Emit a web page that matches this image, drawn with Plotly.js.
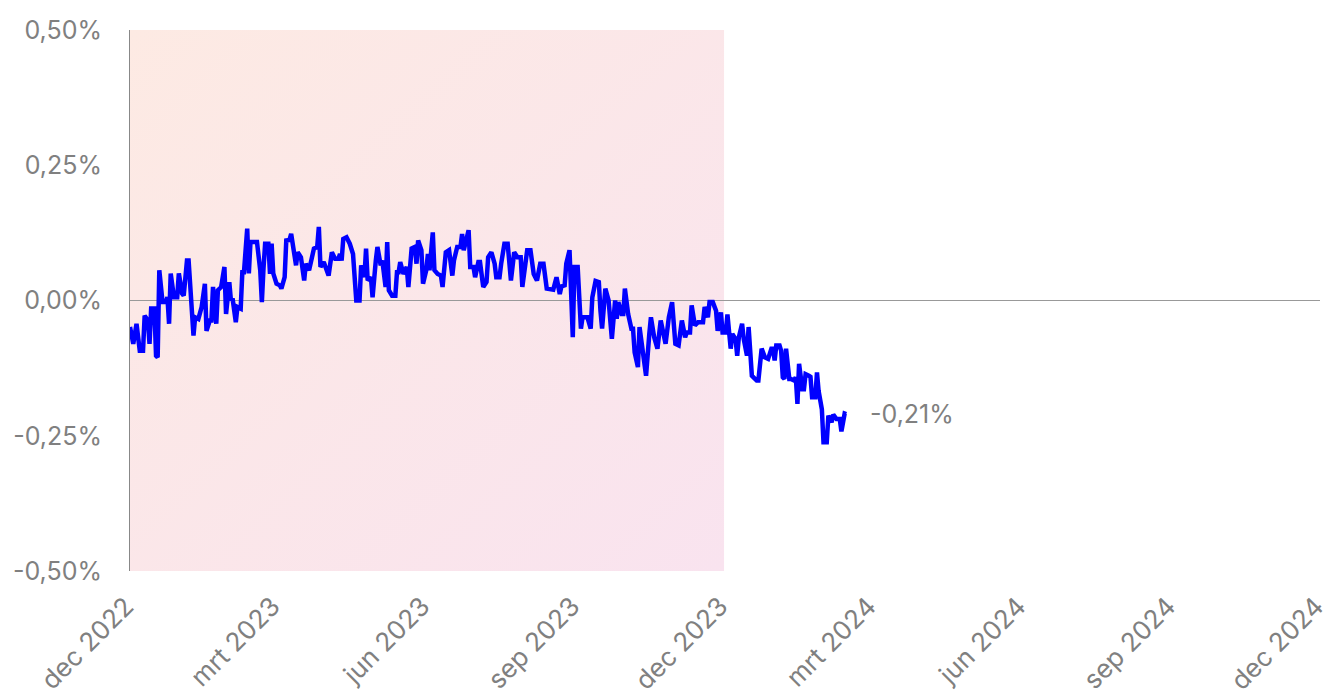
<!DOCTYPE html>
<html>
<head>
<meta charset="utf-8">
<script src="https://cdn.plot.ly/plotly-3.0.1.min.js"></script>
<style>
html,body{margin:0;padding:0;background:#fff;}
#chart{width:1328px;height:700px;}
</style>
</head>
<body>
<div id="chart"></div>
<script>
const dates = [
  // Dec 2022
  '2022-12-01','2022-12-03','2022-12-05','2022-12-07','2022-12-09','2022-12-10','2022-12-12','2022-12-13','2022-12-14','2022-12-16','2022-12-17','2022-12-18','2022-12-19','2022-12-21','2022-12-23','2022-12-24','2022-12-25','2022-12-26','2022-12-28','2022-12-30','2022-12-31',
  // Jan 2023
  '2023-01-02','2023-01-03','2023-01-05','2023-01-06','2023-01-08','2023-01-09','2023-01-10','2023-01-12','2023-01-14','2023-01-16','2023-01-17','2023-01-19','2023-01-20','2023-01-21','2023-01-23','2023-01-24','2023-01-26','2023-01-28','2023-01-29','2023-01-31',
  // Feb 2023
  '2023-02-01','2023-02-02','2023-02-04','2023-02-05','2023-02-07','2023-02-08','2023-02-09','2023-02-11','2023-02-12','2023-02-13','2023-02-15','2023-02-17','2023-02-19','2023-02-20','2023-02-21','2023-02-22','2023-02-24','2023-02-25','2023-02-26','2023-02-27',
  // Mar 2023
  '2023-03-01','2023-03-03','2023-03-04','2023-03-06','2023-03-07','2023-03-09','2023-03-10','2023-03-12','2023-03-13','2023-03-14','2023-03-16','2023-03-18','2023-03-19','2023-03-21','2023-03-22','2023-03-24','2023-03-26','2023-03-27','2023-03-28','2023-03-30',
  // Apr 2023
  '2023-04-02','2023-04-04','2023-04-06','2023-04-08','2023-04-09','2023-04-10','2023-04-11','2023-04-13','2023-04-15','2023-04-17','2023-04-19','2023-04-21','2023-04-22','2023-04-24','2023-04-25','2023-04-26','2023-04-28','2023-04-29',
  // May 2023
  '2023-05-01','2023-05-02','2023-05-04','2023-05-05','2023-05-07','2023-05-08','2023-05-09','2023-05-11','2023-05-13','2023-05-14','2023-05-15','2023-05-16','2023-05-18','2023-05-20','2023-05-21','2023-05-23','2023-05-25','2023-05-26','2023-05-27','2023-05-29','2023-05-30',
  // Jun 2023
  '2023-06-01','2023-06-02','2023-06-03','2023-06-05','2023-06-06','2023-06-08','2023-06-10','2023-06-11','2023-06-13','2023-06-15','2023-06-17','2023-06-18','2023-06-20','2023-06-22','2023-06-23','2023-06-24','2023-06-25','2023-06-27','2023-06-28','2023-06-30',
  // Jul 2023
  '2023-07-01','2023-07-03','2023-07-04','2023-07-06','2023-07-08','2023-07-09','2023-07-11','2023-07-13','2023-07-14','2023-07-16','2023-07-17','2023-07-19','2023-07-21','2023-07-23','2023-07-25','2023-07-27','2023-07-29','2023-07-30',
  // Aug 2023
  '2023-08-02','2023-08-04','2023-08-06','2023-08-08','2023-08-10','2023-08-12','2023-08-14','2023-08-16','2023-08-18','2023-08-20','2023-08-22','2023-08-23','2023-08-25','2023-08-26','2023-08-28','2023-08-30','2023-08-31',
  // Sep 2023
  '2023-09-02','2023-09-04','2023-09-05','2023-09-08','2023-09-10','2023-09-11','2023-09-13','2023-09-15','2023-09-16','2023-09-17','2023-09-19','2023-09-21','2023-09-23','2023-09-25','2023-09-26','2023-09-27','2023-09-29','2023-09-30',
  // Oct 2023
  '2023-10-01','2023-10-03','2023-10-05','2023-10-06','2023-10-07','2023-10-09','2023-10-10','2023-10-12','2023-10-14','2023-10-16','2023-10-17','2023-10-19','2023-10-21','2023-10-23','2023-10-25','2023-10-26','2023-10-28','2023-10-30',
  // Nov 2023
  '2023-11-01','2023-11-03','2023-11-05','2023-11-07','2023-11-08','2023-11-10','2023-11-11','2023-11-13','2023-11-15','2023-11-18','2023-11-19','2023-11-21','2023-11-22','2023-11-24','2023-11-26','2023-11-27','2023-11-29','2023-11-30',
  // Dec 2023
  '2023-12-02','2023-12-03','2023-12-05','2023-12-06','2023-12-08','2023-12-09','2023-12-10','2023-12-12','2023-12-13','2023-12-15','2023-12-16','2023-12-18','2023-12-19','2023-12-21','2023-12-22','2023-12-24','2023-12-26','2023-12-28','2023-12-30','2023-12-31',
  // Jan 2024
  '2024-01-01','2024-01-02','2024-01-04','2024-01-05','2024-01-06','2024-01-07','2024-01-08','2024-01-10','2024-01-11','2024-01-13','2024-01-14','2024-01-15','2024-01-16','2024-01-18','2024-01-19','2024-01-20','2024-01-22','2024-01-23','2024-01-24','2024-01-26','2024-01-27','2024-01-28','2024-01-30','2024-01-31',
  // Feb 2024
  '2024-02-02','2024-02-03','2024-02-05','2024-02-06','2024-02-08','2024-02-10','2024-02-11','2024-02-13','2024-02-14'
];

// Values in percent
const values = [
  // Dec 2022
  -0.049,-0.080,-0.043,-0.093,-0.093,-0.028,-0.037,-0.080,-0.015,-0.015,-0.102,-0.105,0.056,-0.003,-0.003,0.006,-0.043,0.050,0.006,0.006,0.050,
  // Jan 2023
  0.013,0.009,0.074,0.074,-0.025,-0.065,-0.031,-0.034,-0.012,0.031,-0.056,-0.037,-0.037,0.025,-0.043,0.019,0.025,0.062,-0.025,0.034,
  // Feb 2023
  0.000,0.004,-0.040,-0.012,-0.015,0.052,0.052,0.133,0.050,0.108,0.108,0.108,0.056,-0.003,0.059,0.105,0.105,0.049,0.105,0.050,
  // Mar 2023
  0.031,0.028,0.022,0.043,0.111,0.112,0.123,0.089,0.065,0.089,0.080,0.037,0.068,0.056,0.068,0.096,0.099,0.136,0.062,0.071,
  // Apr 2023
  0.046,0.089,0.077,0.077,0.086,0.074,0.114,0.117,0.105,0.086,0.000,0.000,0.065,0.043,0.096,0.037,0.043,0.006,
  // May 2023
  0.074,0.099,0.065,0.074,0.025,0.108,0.019,0.009,0.009,0.052,0.052,0.071,0.049,0.062,0.025,0.096,0.099,0.068,0.111,0.093,0.031,
  // Jun 2023
  0.056,0.086,0.056,0.126,0.056,0.049,0.046,0.025,0.089,0.093,0.046,0.074,0.099,0.099,0.123,0.093,0.105,0.130,0.062,0.062,
  // Jul 2023
  0.043,0.071,0.071,0.025,0.034,0.080,0.089,0.068,0.043,0.043,0.068,0.105,0.105,0.037,0.089,0.080,0.080,0.025,
  // Aug 2023
  0.093,0.093,0.049,0.037,0.068,0.068,0.022,0.020,0.020,0.043,0.012,0.026,0.028,0.068,0.093,-0.068,0.062,
  // Sep 2023
  0.062,-0.052,-0.031,-0.031,-0.052,0.006,0.036,0.034,-0.019,-0.052,0.022,0.000,-0.071,0.000,-0.034,-0.003,-0.025,-0.025,
  // Oct 2023
  0.022,-0.025,-0.052,-0.052,-0.096,-0.123,-0.049,-0.102,-0.139,-0.062,-0.031,-0.068,-0.089,-0.037,-0.074,-0.080,-0.031,-0.003,
  // Nov 2023
  -0.080,-0.083,-0.037,-0.068,-0.059,-0.059,-0.009,-0.046,-0.040,-0.040,-0.012,-0.031,-0.003,-0.003,-0.019,-0.056,-0.022,-0.059,
  // Dec 2023
  -0.059,-0.026,-0.089,-0.062,-0.071,-0.102,-0.068,-0.043,-0.071,-0.102,-0.049,-0.139,-0.142,-0.148,-0.148,-0.089,-0.105,-0.108,-0.089,-0.089,
  // Jan 2024
  -0.111,-0.083,-0.083,-0.093,-0.142,-0.145,-0.089,-0.145,-0.145,-0.148,-0.142,-0.191,-0.117,-0.164,-0.164,-0.136,-0.139,-0.141,-0.179,-0.179,-0.133,-0.167,-0.201,-0.262,
  // Feb 2024
  -0.262,-0.213,-0.225,-0.211,-0.219,-0.219,-0.242,-0.209,-0.210
];

const xTickVals = ['2022-12-01','2023-03-01','2023-06-01','2023-09-01','2023-12-01','2024-03-01','2024-06-01','2024-09-01','2024-12-01'];
const xTickText = ['dec 2022','mrt 2023','jun 2023','sep 2023','dec 2023','mrt 2024','jun 2024','sep 2024','dec 2024'];
const yTickVals = [-0.5,-0.25,0,0.25,0.5];
const yTickText = ['-0,50%','-0,25%','0,00%','0,25%','0,50%'];
const shadeStart = '2022-12-01';
const shadeEnd = '2023-12-01';

const grey = '#808080';
const fontFam = 'Inter, "Noto Sans", sans-serif';
const fs = 25;

const gradSvg = '<svg xmlns="http://www.w3.org/2000/svg" width="100" height="100" preserveAspectRatio="none">' +
  '<defs><linearGradient id="g" x1="0" y1="0" x2="1" y2="1">' +
  '<stop offset="0" stop-color="#FDEAE3"/><stop offset="1" stop-color="#F9E3EF"/>' +
  '</linearGradient></defs><rect width="100" height="100" fill="url(#g)"/></svg>';
const gradUri = 'data:image/svg+xml;base64,' + btoa(gradSvg);

const shadeWidth = (new Date(shadeEnd) - new Date(shadeStart));

const lastVal = values[values.length - 1];
const lastLabel = (lastVal < 0 ? '-' : '') + Math.abs(lastVal).toFixed(2).replace('.', ',') + '%';

const trace = {
  x: dates,
  y: values,
  type: 'scatter',
  mode: 'lines',
  line: {color: '#0000FF', width: 4.5},
  hoverinfo: 'skip',
  showlegend: false
};

const layout = {
  width: 1328,
  height: 700,
  margin: {l: 130, r: 8, t: 30, b: 129, pad: 0},
  paper_bgcolor: '#ffffff',
  plot_bgcolor: 'rgba(0,0,0,0)',
  font: {family: fontFam, color: grey, size: fs},
  showlegend: false,
  xaxis: {
    type: 'date',
    range: ['2022-12-01', '2024-12-01'],
    tickvals: xTickVals,
    ticktext: xTickText,
    tickangle: -45,
    showgrid: false,
    zeroline: false,
    showline: false,
    ticks: '',
    automargin: false,
    ticklabeloverflow: 'allow',
    ticklabelstandoff: 14,
    ticklabelshift: -4,
    tickfont: {family: fontFam, color: grey, size: 26},
    fixedrange: true
  },
  yaxis: {
    range: [-0.5, 0.5],
    tickvals: yTickVals,
    ticktext: yTickText,
    showgrid: false,
    zeroline: true,
    zerolinecolor: '#999999',
    zerolinewidth: 1.2,
    showline: true,
    linecolor: '#888888',
    linewidth: 1,
    ticks: '',
    automargin: false,
    ticklabeloverflow: 'allow',
    ticklabelstandoff: 22,
    tickfont: {family: fontFam, color: grey, size: fs},
    fixedrange: true
  },
  images: [{
    source: gradUri,
    xref: 'x', yref: 'y',
    x: shadeStart, y: 0.5,
    sizex: shadeWidth, sizey: 1.0,
    sizing: 'stretch',
    xanchor: 'left', yanchor: 'top',
    layer: 'below',
    opacity: 1
  }],
  annotations: [{
    x: dates[dates.length - 1],
    y: lastVal,
    xref: 'x', yref: 'y',
    text: lastLabel,
    showarrow: false,
    xanchor: 'left',
    yanchor: 'middle',
    xshift: 22,
    font: {family: fontFam, color: grey, size: fs}
  }]
};

Plotly.newPlot('chart', [trace], layout, {displayModeBar: false, staticPlot: true});
</script>
</body>
</html>
